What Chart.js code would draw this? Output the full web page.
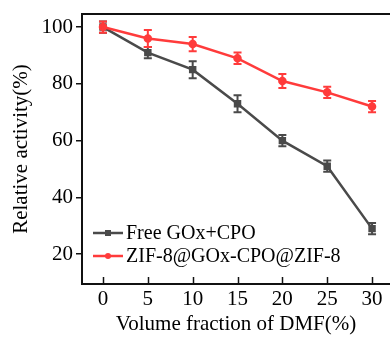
<!DOCTYPE html>
<html><head><meta charset="utf-8">
<script src="https://cdn.jsdelivr.net/npm/chart.js@4/dist/chart.umd.min.js"></script>
<style>html,body{margin:0;padding:0;background:#fff;overflow:hidden}#w{width:390px;height:337px;position:relative}</style>
</head><body><div id="w"><canvas id="c"></canvas></div>
<script>
const dmf = [0, 5, 10, 15, 20, 25, 30];
const freeVals = [100, 91, 85, 73, 60, 51, 29];
const freeErr = [2, 2, 3, 3, 2, 2, 2];
const zifVals = [100, 96, 94, 89, 81, 77, 72];
const zifErr = [2, 3, 2.5, 2, 2.5, 2, 2];
const yTicks = [20, 40, 60, 80, 100];
const xTicks = [0, 5, 10, 15, 20, 25, 30];
const seriesNames = ['Free GOx+CPO', 'ZIF-8@GOx-CPO@ZIF-8'];

const GRAY = '#4a4a4a', RED = '#ff3b3b';
const FONT = '"Liberation Serif", "Times New Roman", serif';

const errPlugin = {
  id: 'err',
  afterDatasetsDraw(chart) {
    const ctx = chart.ctx, ys = chart.scales.y, xs = chart.scales.x;
    chart.data.datasets.forEach(ds => {
      ctx.save();
      ctx.strokeStyle = ds.borderColor; ctx.lineWidth = 2;
      ds.data.forEach((p, i) => {
        const x = xs.getPixelForValue(p.x);
        const y1 = ys.getPixelForValue(p.y + ds.err[i]);
        const y2 = ys.getPixelForValue(p.y - ds.err[i]);
        ctx.beginPath();
        ctx.moveTo(x, y1); ctx.lineTo(x, y2);
        ctx.moveTo(x - 4, y1); ctx.lineTo(x + 4, y1);
        ctx.moveTo(x - 4, y2); ctx.lineTo(x + 4, y2);
        ctx.stroke();
      });
      ctx.restore();
    });
  }
};
const frame = {
  id: 'frame',
  afterDraw(chart) {
    const ctx = chart.ctx, a = chart.chartArea, xs = chart.scales.x;
    ctx.save(); ctx.strokeStyle = '#111'; ctx.lineWidth = 2;
    ctx.beginPath(); ctx.moveTo(a.left - 1, a.top); ctx.lineTo(a.right + 2, a.top); ctx.stroke();
    ctx.lineWidth = 1.5;
    xs.ticks.forEach(t => {
      const x = Math.round(xs.getPixelForValue(t.value)) + 0.5;
      ctx.beginPath(); ctx.moveTo(x, a.bottom); ctx.lineTo(x, a.bottom - 7); ctx.stroke();
    });
    const items = [[seriesNames[0], GRAY, 'rect'], [seriesNames[1], RED, 'circle']];
    ctx.font = '20px ' + FONT; ctx.textBaseline = 'middle';
    items.forEach((it, k) => {
      const y = 233 + k * 23, x0 = 93, x1 = 123;
      ctx.strokeStyle = it[1]; ctx.lineWidth = 2.5;
      ctx.beginPath(); ctx.moveTo(x0, y); ctx.lineTo(x1, y); ctx.stroke();
      ctx.fillStyle = it[1];
      if (it[2] === 'rect') ctx.fillRect((x0 + x1) / 2 - 3, y - 3, 6, 6);
      else { ctx.beginPath(); ctx.arc((x0 + x1) / 2, y, 3, 0, Math.PI * 2); ctx.fill(); }
      ctx.fillStyle = '#000';
      ctx.fillText(it[0], 126, y + 1);
    });
    ctx.restore();
  }
};

new Chart(document.getElementById('c'), {
  type: 'line',
  data: {
    datasets: [
      { label: seriesNames[0], data: dmf.map((x, i) => ({x, y: freeVals[i]})), err: freeErr,
        borderColor: GRAY, backgroundColor: GRAY, borderWidth: 2.5, pointStyle: 'rect', pointRadius: 3.5, order: 1 },
      { label: seriesNames[1], data: dmf.map((x, i) => ({x, y: zifVals[i]})), err: zifErr,
        borderColor: RED, backgroundColor: RED, borderWidth: 2.5, pointStyle: 'circle', pointRadius: 3, order: 0 }
    ]
  },
  options: {
    responsive: true, maintainAspectRatio: false, animation: false,
    layout: { autoPadding: false, padding: { top: 14, right: 0, left: 0, bottom: 0 } },
    plugins: { legend: { display: false }, tooltip: { enabled: false } },
    scales: {
      x: {
        type: 'linear', min: -2.34, max: 32,
        afterBuildTicks: s => { s.ticks = xTicks.map(v => ({value: v})); },
        afterFit: s => { s.height = 53; s.paddingLeft = 0; s.paddingRight = 0; },
        border: { display: true, color: '#111', width: 2 },
        grid: { drawOnChartArea: false, drawTicks: false },
        ticks: { color: '#000', font: { family: FONT, size: 21 }, padding: 3, maxRotation: 0 },
        title: { display: true, text: 'Volume fraction of DMF(%)', color: '#000', font: { family: FONT, size: 21 }, padding: { top: 0, bottom: 0 } }
      },
      y: {
        min: 9.5, max: 104.6,
        afterBuildTicks: s => { s.ticks = yTicks.map(v => ({value: v})); },
        afterFit: s => { s.width = 82; s.paddingTop = 0; s.paddingBottom = 0; },
        border: { display: true, color: '#111', width: 2 },
        grid: { drawOnChartArea: false, drawTicks: true, tickLength: 6, color: '#111', lineWidth: 1.5 },
        ticks: { color: '#000', font: { family: FONT, size: 21 }, padding: 3 },
        title: { display: true, text: 'Relative activity(%)', color: '#000', font: { family: FONT, size: 21 }, padding: { top: 9, bottom: 0 } }
      }
    }
  },
  plugins: [errPlugin, frame]
});
</script></body></html>
